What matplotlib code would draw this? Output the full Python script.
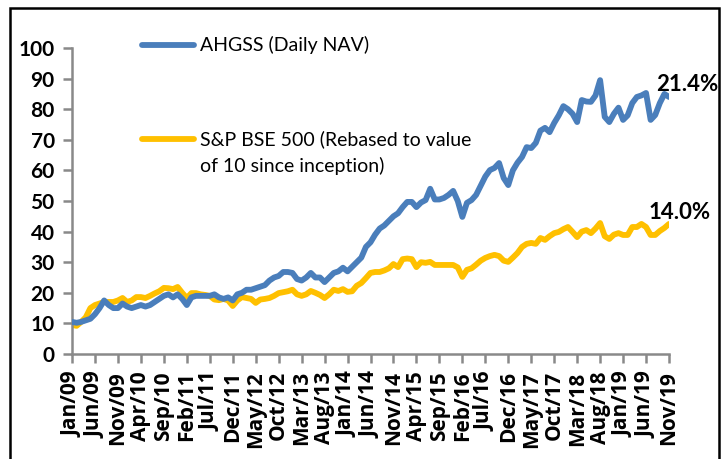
import numpy as np
import pandas as pd
import matplotlib
matplotlib.use('Agg')
import matplotlib.pyplot as plt
from matplotlib.lines import Line2D
from matplotlib.patches import Rectangle

# monthly values, Jan/09 .. Nov/19
ahgss = [10.5, 10.2, 10.5, 11, 11.5, 13, 15, 17.5, 16, 15,
         15, 16.5, 15.5, 15, 15.5, 16, 15.5, 16, 17, 18,
         19, 19.5, 18.5, 19.5, 18, 16, 18.5, 19, 19, 19,
         19, 19.5, 18.5, 18, 18.5, 17.5, 19.5, 20, 21, 21,
         21.5, 22, 22.5, 24, 25, 25.5, 26.8, 26.8, 26.5, 24.5,
         24, 25, 26.5, 25, 25, 23.5, 25, 26.5, 27, 28.2,
         27, 28.5, 30, 31.5, 35, 36.5, 39, 41, 42, 43.5,
         45, 46, 48, 49.7, 49.7, 48, 49.5, 50.3, 54, 50.5,
         50.5, 51, 52, 53.3, 50, 44.8, 49.4, 50.3, 52, 55,
         58, 60.1, 60.8, 62.4, 57.5, 55.2, 60, 62.5, 64.4, 67.6,
         67.3, 69, 73, 73.9, 72.5, 75.5, 78, 81, 80, 78.5,
         75.8, 83, 82.5, 82.4, 84.5, 89.5, 77.5, 75.8, 78.5, 80.5,
         76.5, 78, 82, 84, 84.5, 85.3, 76.5, 78.1, 82, 85,
         84]
bse500 = [9.5, 9.2, 10.5, 12, 15, 16, 16.5, 17, 17, 17,
          17.5, 18.3, 17, 17.5, 18.6, 18.6, 18.3, 19, 19.8, 20.5,
          21.6, 21.5, 21.2, 21.9, 20, 18.3, 19.9, 19.9, 19.5, 19.3,
          19, 17.8, 17.6, 18, 17.5, 15.7, 17.5, 18.6, 18.3, 18,
          16.7, 17.8, 18, 18.3, 19, 19.9, 20.2, 20.5, 21, 19.5,
          19, 19.5, 20.6, 20, 19.3, 18.3, 19.5, 21, 20.6, 21.2,
          20.3, 20.5, 22.3, 23.2, 24.8, 26.5, 26.8, 26.8, 27.3, 28,
          29.4, 28.4, 31, 31.2, 31, 28.4, 30, 29.8, 30.1, 29.1,
          29.1, 29.1, 29.1, 29.1, 28.3, 25.2, 27.5, 28, 29.2, 30.5,
          31.4, 32, 32.4, 32, 30.5, 30.1, 31.5, 33, 35, 36,
          36.3, 36, 37.9, 37.3, 38.5, 39.5, 39.9, 40.8, 41.5, 39.9,
          38.2, 40, 40.5, 39.5, 41, 42.8, 38.5, 37.6, 39, 39.5,
          38.9, 38.9, 41.5, 41.5, 42.5, 41.5, 38.9, 38.9, 40.2, 41.2,
          42.5]
months = pd.date_range('2009-01-01', periods=len(ahgss), freq='MS')
month_labels = [d.strftime('%b/%y') for d in months]
end_labels = ['21.4%', '14.0%']
series_names = ['AHGSS (Daily NAV)', 'S&P BSE 500 (Rebased to value\nof 10 since inception)']

BLUE = '#4A7EBB'
YELLOW = '#FFC000'
AXIS_GREY = '#898989'

plt.rcParams['font.family'] = ['Lato', 'DejaVu Sans']

fig = plt.figure(figsize=(7.21, 4.59), dpi=100)
ax = fig.add_axes([72 / 721, 1 - 354 / 459, 597 / 721, 306 / 459])

x = np.arange(len(ahgss))
ax.plot(x, ahgss, color=BLUE, lw=4.2, solid_joinstyle='round', solid_capstyle='round', zorder=3)
ax.plot(x, bse500, color=YELLOW, lw=4.2, solid_joinstyle='round', solid_capstyle='round', zorder=2)

ax.set_xlim(0, len(ahgss) - 1)
ax.set_ylim(0, 100)
ax.set_yticks(range(0, 101, 10))
ax.set_yticklabels([str(v) for v in range(0, 101, 10)], fontsize=15, fontweight='bold')
tick_idx = list(range(0, len(ahgss), 5))
ax.set_xticks(tick_idx)
ax.set_xticklabels([month_labels[i] for i in tick_idx], rotation=90,
                   fontsize=15, fontweight='bold', family=['Open Sans', 'DejaVu Sans'])

for side in ['top', 'right']:
    ax.spines[side].set_visible(False)
for side in ['left', 'bottom']:
    ax.spines[side].set_color(AXIS_GREY)
    ax.spines[side].set_linewidth(1.8)
ax.tick_params(axis='both', direction='out', length=6.5, width=1.8, color=AXIS_GREY)
ax.tick_params(axis='y', pad=6)
ax.tick_params(axis='x', pad=6)

# end-point labels
ax.annotate(end_labels[0], (x[-1], ahgss[-1]), xytext=(13, 9), textcoords='offset points',
            fontsize=16, fontweight='bold', ha='center', va='center', annotation_clip=False)
ax.annotate(end_labels[1], (x[-1], bse500[-1]), xytext=(7.5, 8), textcoords='offset points',
            fontsize=16, fontweight='bold', ha='center', va='center', annotation_clip=False)

# hand-placed legend
W, H = 721, 459
for (y_px, col, name) in [(45, BLUE, series_names[0]), (139, YELLOW, series_names[1])]:
    fig.add_artist(Line2D([142 / W, 194 / W], [1 - y_px / H] * 2, color=col, lw=4.2,
                          solid_capstyle='round', transform=fig.transFigure))
    fig.text(200 / W, 1 - (y_px - 9) / H, name, fontsize=14,
             ha='left', va='top', linespacing=1.6)

# chart border
fig.add_artist(Rectangle((10 / W, -0.05), 0.997 - 10 / W, 1.05 - 8 / H,
                         transform=fig.transFigure, fill=False, ec='black', lw=1.8))

fig.savefig('out.png', dpi=100)
